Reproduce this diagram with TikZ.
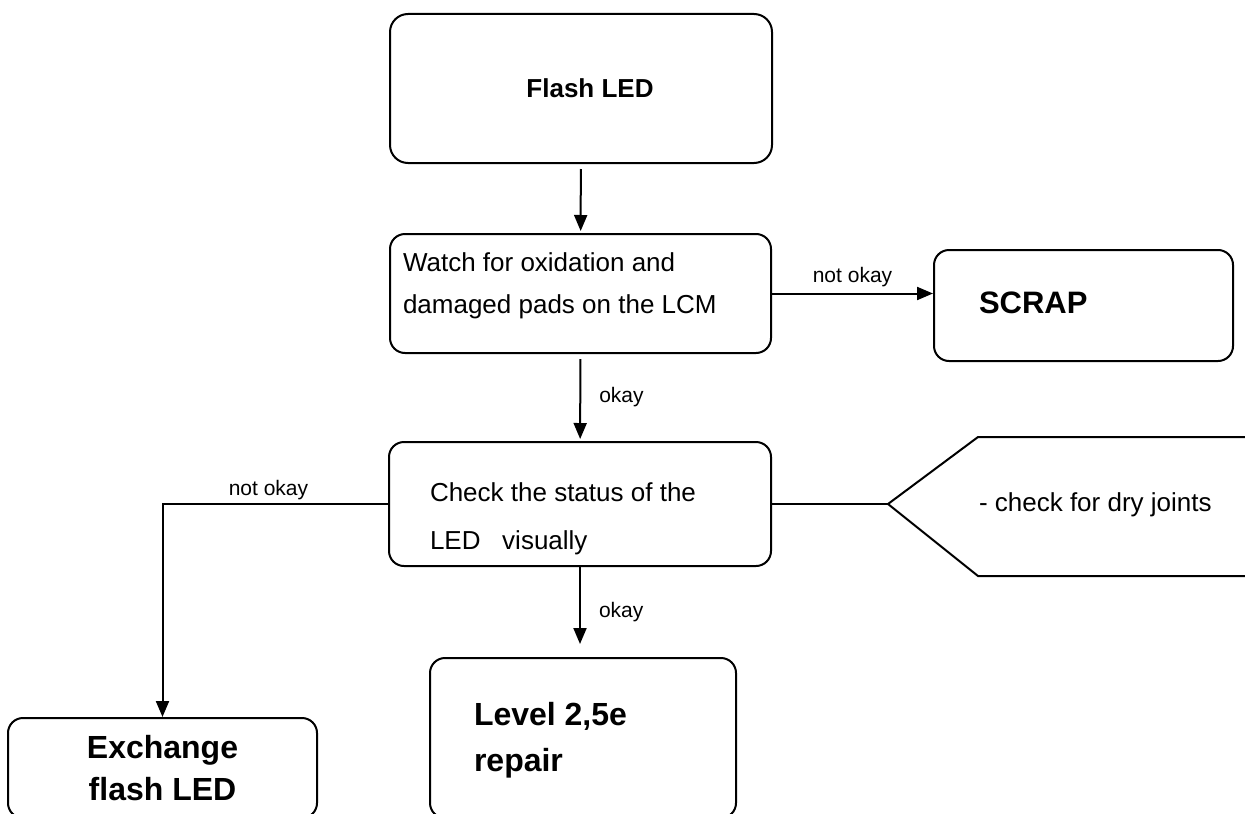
\documentclass[tikz,border=0pt]{standalone}
\usepackage{fontspec}
\setmainfont{Liberation Sans}
\usetikzlibrary{arrows.meta}
\tikzset{
    >={Triangle[length=8pt,width=6.5pt]},
    flow/.style={
        x=0.5pt,y=-0.5pt,
        line width=1pt,
        box/.append style={draw,line width=1pt,rounded corners=7.5pt,inner sep=0pt},
        txt/.append style={inner sep=0pt,anchor=west,align=left,font=\fontsize{13}{21}\selectfont},
        big/.append style={inner sep=0pt,anchor=west,align=left,font=\fontsize{16}{23}\selectfont\bfseries},
        lbl/.append style={inner sep=0pt,font=\fontsize{10.5}{12}\selectfont}
    }
}

\begin{document}
\begin{tikzpicture}[flow]
    \useasboundingbox (0,0) rectangle (1245,813);
    \clip (0,0) rectangle (1245,813);

    \node[box,minimum width=191pt,minimum height=74.5pt,rounded corners=9pt] (flash) at (581,88.5) {};
    \node[box,minimum width=190.5pt,minimum height=59.5pt] (watch) at (580.5,293.5) {};
    \node[box,minimum width=149.5pt,minimum height=55.5pt] (scrap) at (1083.5,305.5) {};
    \node[box,minimum width=191pt,minimum height=62pt] (check) at (580,504) {};
    \node[box,minimum width=154.5pt,minimum height=50pt,align=center,font=\fontsize{16}{21}\selectfont\bfseries] (exchange) at (162.5,768) {Exchange\\flash LED};
    \node[box,minimum width=153pt,minimum height=80pt] (level) at (583,738) {};

    \node[inner sep=0pt,font=\fontsize{13}{15}\selectfont\bfseries] (flashtxt) at (590,88) {Flash LED};
    \node[txt] (watchtxt) at (402,286) {Watch for oxidation and\\damaged pads on the LCM};
    \node[big,font=\fontsize{15.5}{18}\selectfont\bfseries] (scraptxt) at (978,303) {SCRAP};
    \node[txt,font=\fontsize{13}{24}\selectfont] (checktxt) at (429,519) {Check the status of the\\LED\ \ \ visually};
    \node[big] (leveltxt) at (473,740) {Level 2,5e\\repair};

    % side note
    \coordinate (tip) at (888,504);
    \draw (1260,437) -- (978,437) -- (tip) -- (978,576) -- (1260,576);
    \node[txt] (drytxt) at (978,505) {- check for dry joints};

    \draw[->,shorten <=2.5pt,shorten >=1pt] (flash) -- (watch);
    \draw[->,shorten <=2.5pt,shorten >=1pt] (watch) -- node[lbl,right=9pt] {okay} (check);
    \draw[->] (watch.east) -- node[lbl,above=3pt] {not okay} (watch.east -| scrap.west);
    \draw[->] (check.west) -- node[pos=0.53,lbl,above=1.5pt] {not okay} (check.west -| exchange.north) -- (exchange.north);
    \draw[->,shorten >=6.5pt] (check.south) -- node[lbl,right=9pt] {okay} (check.south |- level.north);
    \draw (check.east) -- (tip);
\end{tikzpicture}
\end{document}
